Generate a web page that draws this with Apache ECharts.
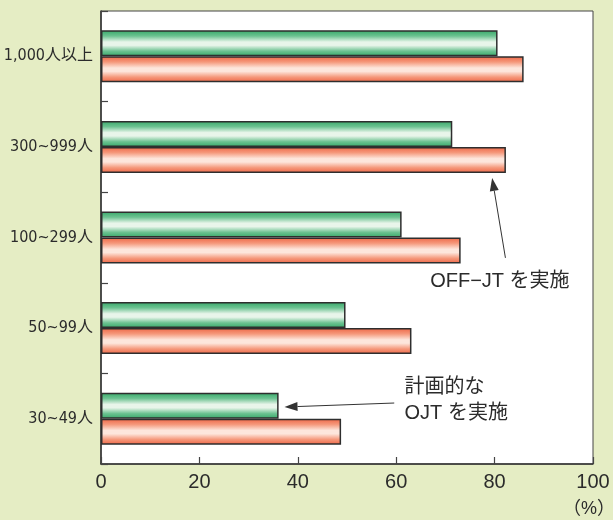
<!DOCTYPE html>
<html>
<head>
<meta charset="utf-8">
<style>
  html, body { margin: 0; padding: 0; background: #e5edc4; }
  #chart { width: 613px; height: 520px; }
</style>
<script src="https://cdn.jsdelivr.net/npm/echarts@6/dist/echarts.min.js"></script>
</head>
<body>
<div id="chart"></div>
<script>
// Company size groups, bottom to top
const categories = ['30~49人', '50~99人', '100~299人', '300~999人', '1,000人以上'];
// Share of companies doing planned OJT (green) and OFF-JT (red), %
const ojtValues = [36.1, 49.7, 61.1, 71.4, 80.6];
const offjtValues = [48.8, 63.1, 73.1, 82.3, 85.9];
const xTicks = [0, 20, 40, 60, 80, 100];

// Callouts in data space: [value, category position (fractional)]
const notes = [
  { lines: ['OFF−JT を実施'], text: [66.9, 1.51], tail: [82.2, 1.775], tip: [79.5, 2.657] },
  { lines: ['計画的な', 'OJT を実施'], text: [61.7, 0.35], tail: [59.6, 0.173], tip: [37.3, 0.129] }
];

const labelFont = '"Liberation Sans Narrow", "DejaVu Sans Condensed", "Noto Sans CJK JP", sans-serif';
const mainFont = '"Liberation Sans", Arial, "Noto Sans CJK JP", sans-serif';

function tube(edge, mid, glow) {
  return new echarts.graphic.LinearGradient(0, 0, 0, 1, [
    { offset: 0, color: edge },
    { offset: 0.22, color: mid },
    { offset: 0.45, color: glow },
    { offset: 0.58, color: glow },
    { offset: 0.8, color: mid },
    { offset: 1, color: edge }
  ]);
}

const chart = echarts.init(document.getElementById('chart'), null, { renderer: 'canvas' });

chart.setOption({
  backgroundColor: '#e5edc4',
  animation: false,
  grid: {
    left: 101, right: 20, top: 11, bottom: 56,
    outerBoundsMode: 'none', containLabel: false,
    show: true, backgroundColor: '#ffffff', borderColor: '#444', borderWidth: 1
  },
  xAxis: {
    type: 'value', min: 0, max: 100, interval: 20,
    axisLine: { show: true, lineStyle: { color: '#333', width: 1.5 } },
    axisTick: { show: true, inside: true, length: 7, lineStyle: { color: '#444', width: 1.2 } },
    splitLine: { show: false },
    axisLabel: {
      margin: 8, fontSize: 20, color: '#2b2b2b', fontFamily: mainFont,
      formatter: v => xTicks.includes(v) ? String(v) : ''
    }
  },
  yAxis: {
    type: 'category', data: categories, boundaryGap: true,
    axisLine: { show: true, lineStyle: { color: '#333', width: 1.5 } },
    axisTick: { show: true, inside: true, length: 7, lineStyle: { color: '#444', width: 1.2 } },
    axisLabel: { margin: 8, fontSize: 16, color: '#2b2b2b', fontFamily: labelFont }
  },
  series: [
    {
      name: '計画的なOJTを実施', type: 'bar', data: ojtValues,
      barWidth: 26, barGap: '0%',
      itemStyle: { color: tube('#36a868', '#6cc291', '#e8f5ea'), borderColor: '#2e2e2e', borderWidth: 1.5 }
    },
    {
      name: 'OFF-JTを実施', type: 'bar', data: offjtValues,
      barWidth: 26, barGap: '0%',
      itemStyle: { color: tube('#ee6646', '#f5987b', '#fde6dc'), borderColor: '#2e2e2e', borderWidth: 1.5 }
    }
  ]
});

// Pixel position of [value, fractional category], through the chart's scales
function px(p) {
  const x = chart.convertToPixel({ xAxisIndex: 0 }, p[0]);
  const y0 = chart.convertToPixel({ yAxisIndex: 0 }, 0);
  const y1 = chart.convertToPixel({ yAxisIndex: 0 }, 1);
  return [x, y0 + (y1 - y0) * p[1]];
}

const elements = [];
notes.forEach(n => {
  const t = px(n.tip), s = px(n.tail), tp = px(n.text);
  const ang = Math.atan2(t[1] - s[1], t[0] - s[0]);
  const len = 13, half = 4.5;
  const bx = t[0] - len * Math.cos(ang), by = t[1] - len * Math.sin(ang);
  elements.push({
    type: 'line', silent: true,
    shape: { x1: s[0], y1: s[1], x2: bx, y2: by },
    style: { stroke: '#333', lineWidth: 1 }
  });
  elements.push({
    type: 'polygon', silent: true,
    shape: { points: [
      [t[0], t[1]],
      [bx + half * Math.sin(ang), by - half * Math.cos(ang)],
      [bx - half * Math.sin(ang), by + half * Math.cos(ang)]
    ] },
    style: { fill: '#333' }
  });
  const lineH = 26;
  n.lines.forEach((txt, i) => {
    elements.push({
      type: 'text', silent: true,
      x: tp[0], y: tp[1] + i * lineH,
      style: {
        text: txt, fill: '#2b2b2b', font: '20px ' + mainFont,
        align: 'left', verticalAlign: 'middle'
      }
    });
  });
});

// Unit mark under the last tick
const end = px([100, -0.5]);
elements.push({
  type: 'text', silent: true,
  x: end[0] - 4, y: end[1] + 45,
  style: { text: '（%）', fill: '#2b2b2b', font: '18px ' + mainFont, align: 'center', verticalAlign: 'middle' }
});

chart.setOption({ graphic: { elements } });
</script>
</body>
</html>
